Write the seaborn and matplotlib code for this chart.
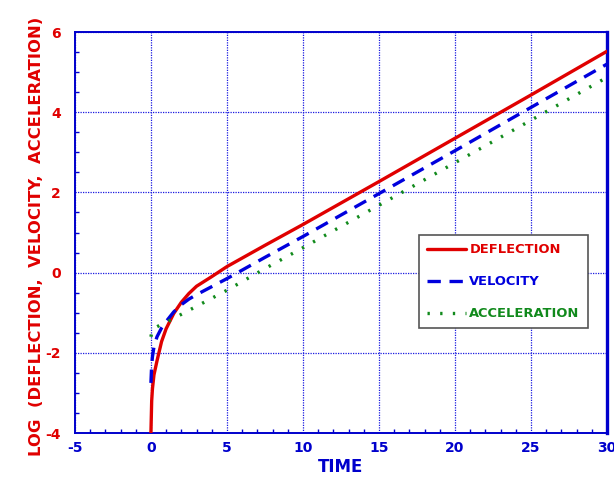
import numpy as np
import pandas as pd
import matplotlib
matplotlib.use("Agg")
import matplotlib.pyplot as plt
import seaborn as sns
from matplotlib.ticker import MultipleLocator

# Log-response histories of a single-degree-of-freedom system
time = [0, 0.05, 0.1, 0.2, 0.4, 0.7, 1.0, 1.5, 2.0, 2.5, 3.0, 4.0, 5.0,
        7.5, 10, 15, 20, 25, 30]
log_deflection = [-4.0, -3.2, -2.9, -2.55, -2.2, -1.72, -1.4, -1.02, -0.74,
                  -0.52, -0.34, -0.1, 0.15, 0.68, 1.2, 2.27, 3.35, 4.43, 5.52]
log_velocity = [-2.75, -2.3, -2.1, -1.85, -1.6, -1.38, -1.22, -0.98, -0.8,
                -0.66, -0.55, -0.35, -0.15, 0.38, 0.9, 1.97, 3.04, 4.12, 5.2]
log_acceleration = [-1.6, -1.5, -1.44, -1.4, -1.35, -1.29, -1.24, -1.14,
                    -1.04, -0.94, -0.84, -0.64, -0.44, 0.1, 0.62, 1.68, 2.74,
                    3.8, 4.87]

series_names = ["DEFLECTION", "VELOCITY", "ACCELERATION"]
series_values = [log_deflection, log_velocity, log_acceleration]
series_colors = ["#e00000", "#0000dd", "#118a1c"]
series_styles = ["-", (0, (4, 2.6)), (0, (0.7, 3.1))]

x_ticks = [-5, 0, 5, 10, 15, 20, 25, 30]
y_ticks = [-4, -2, 0, 2, 4, 6]

sns.set_theme(style="white")
plt.rcParams["font.family"] = ["DejaVu Sans"]
plt.rcParams["font.weight"] = "bold"
plt.rcParams["axes.unicode_minus"] = False

axis_blue = "#0000cc"
label_red = "#e00000"

fig = plt.figure(figsize=(6.14, 4.83), dpi=100)
ax = fig.add_axes([0.122, 0.1035, 0.8666, 0.8302])

for name, vals, col, ls in zip(series_names, series_values, series_colors,
                               series_styles):
    df = pd.DataFrame({"t": time, "v": vals})
    sns.lineplot(data=df, x="t", y="v", ax=ax, color=col, linewidth=2.4,
                 linestyle=ls, label=name, sort=False, estimator=None,
                 zorder=3)

ax.set_xlim(-5, 30)
ax.set_ylim(-4, 6)
ax.set_xticks(x_ticks)
ax.set_yticks(y_ticks)
ax.xaxis.set_minor_locator(MultipleLocator(1))
ax.yaxis.set_minor_locator(MultipleLocator(0.5))

ax.grid(True, which="major", color="#1a1ae0", linestyle=(0, (1, 1)),
        linewidth=0.9, zorder=1)

for side, sp in ax.spines.items():
    sp.set_color(axis_blue)
    sp.set_linewidth(1.4)
ax.spines["right"].set_linewidth(2.4)

ax.tick_params(axis="both", which="both", direction="in", colors=axis_blue,
               top=False, right=False, bottom=True, left=True)
ax.tick_params(axis="both", which="major", length=0)
ax.tick_params(axis="x", which="major", pad=6)
ax.tick_params(axis="y", which="major", pad=10)
ax.tick_params(axis="both", which="minor", length=3, width=1)
ax.tick_params(axis="x", labelcolor=axis_blue, labelsize=10)
ax.tick_params(axis="y", labelcolor=label_red, labelsize=10)
for lab in ax.get_xticklabels() + ax.get_yticklabels():
    lab.set_fontweight("bold")

ax.set_xlabel("TIME", color=axis_blue, fontsize=12, fontweight="bold",
              labelpad=2)
ax.set_ylabel("LOG  (DEFLECTION,  VELOCITY,  ACCELERATION)", color=label_red,
              fontsize=11.8, fontweight="bold")
ax.yaxis.set_label_coords(-0.058, 0.49)

leg = ax.legend(loc="lower left", bbox_to_anchor=(0.647, 0.262, 0.318, 0.222),
                mode="expand", borderaxespad=0, frameon=True, fancybox=False,
                handlelength=3.0, handletextpad=0.25, borderpad=0.6,
                labelspacing=1.45, prop={"weight": "bold", "size": 9.4})
leg.get_frame().set_edgecolor("#555555")
leg.get_frame().set_linewidth(1.2)
leg.get_frame().set_alpha(1)
for txt, col in zip(leg.get_texts(), series_colors):
    txt.set_color(col)

fig.savefig("out.png", dpi=100, facecolor="white")
